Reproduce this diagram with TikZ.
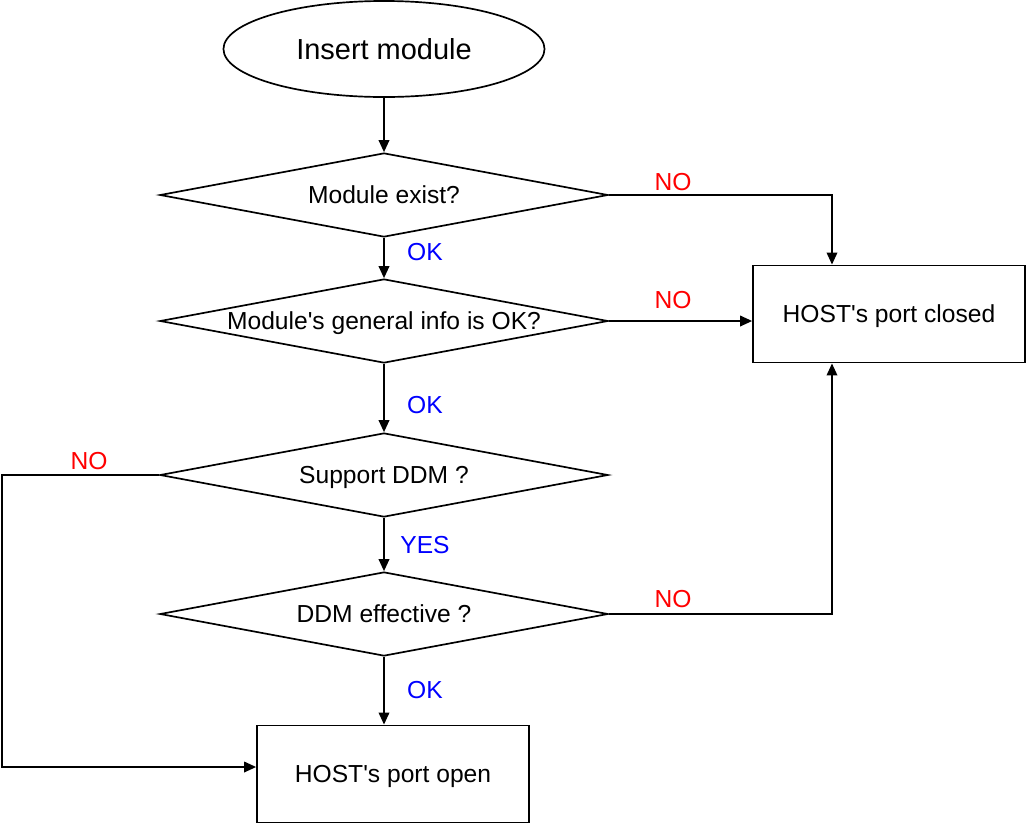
\documentclass[tikz,border=0pt]{standalone}
\usepackage{fontspec}
\setmainfont{Liberation Sans}
\usetikzlibrary{shapes.geometric,arrows.meta}
\begin{document}
\begin{tikzpicture}[x=0.025cm,y=-0.025cm,line width=1.2pt,
    >={Triangle[length=8.5pt,width=7.5pt]},
    every node/.style={font=\fontsize{17.5}{21}\selectfont,text depth=0pt},
    start/.style={draw,ellipse,minimum width=8.025cm,minimum height=2.4cm,
      inner sep=0pt,font=\fontsize{20.6}{24}\selectfont},
    test/.style={draw,diamond,aspect=5.4,minimum width=11.2cm,
      minimum height=2.1cm,inner sep=0pt},
    port/.style={draw,rectangle,minimum width=6.8cm,minimum height=2.43cm},
    no/.style={text=red},
    yes/.style={text=blue}]
      \useasboundingbox (0,0) rectangle (1026,824);
      \draw
        (384,49) node[start] (insert){Insert module}
        (384,195) node[test] (exist){Module exist?}
        (384,321) node[test] (info){Module\textquotesingle s general info is OK?}
        (384,475) node[test] (ddm){Support DDM ?}
        (384,614) node[test] (eff){DDM effective ?}
        (889,314) node[port] (closed){HOST\textquotesingle s port closed}
        (393,774) node[port] (open){HOST\textquotesingle s port open};
      \coordinate (ctop) at ([xshift=-1.425cm]closed.north);
      \coordinate (cbot) at ([xshift=-1.425cm]closed.south);
      \coordinate (lcorner) at (2,767);
      \begin{scope}[->]
        \draw (insert) to (exist);
        \draw (exist) to (info);
        \draw (info) to (ddm);
        \draw (ddm) to (eff);
        \draw (eff.south) to (eff.south |- open.north);
        \draw (exist.east) -| (ctop);
        \draw (info.east) to (info.east -| closed.west);
        \draw (eff.east) -| (cbot);
        \draw (ddm.west) -| (lcorner) to (lcorner -| open.west);
      \end{scope}
      \draw
        (673,182) node[no] (no1){NO}
        (673,300) node[no] (no2){NO}
        (673,599) node[no] (no3){NO}
        (89,461) node[no] (no4){NO}
        (425,252) node[yes] (ok1){OK}
        (425,405) node[yes] (ok2){OK}
        (425,545) node[yes] (yes1){YES}
        (425,690) node[yes] (ok3){OK};
    \end{tikzpicture}
\end{document}
